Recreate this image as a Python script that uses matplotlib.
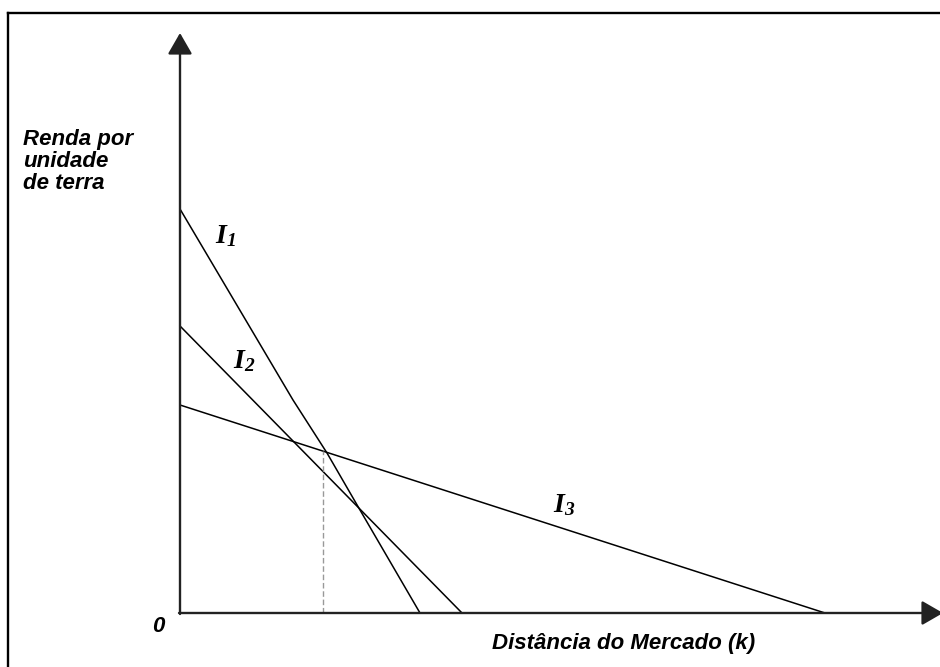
import numpy as np
import matplotlib
matplotlib.use('Agg')
import matplotlib.pyplot as plt
from matplotlib.lines import Line2D

# Curvas de renda (unidades arbitrárias: distância k, renda por unidade de terra)
i1_x = [0, 11.3, 14.7, 18.0, 24.0]
i1_y = [40.4, 21.3, 16.0, 10.3, 0]
i2_x = [0, 28.2]
i2_y = [28.7, 0]
i3_x = [0, 64.5]
i3_y = [20.8, 0]
k_corte = 14.3
labels = [r'$I_1$', r'$I_2$', r'$I_3$']
label_pos = [(3.5, 37.0), (5.3, 24.5), (37.3, 10.1)]

plt.rcParams['mathtext.fontset'] = 'custom'
plt.rcParams['mathtext.it'] = 'Liberation Serif:italic:bold'
plt.rcParams['mathtext.rm'] = 'Liberation Serif:italic:bold'

fig = plt.figure(figsize=(9.4, 6.67), dpi=100)
ax = fig.add_axes([0, 0, 1, 1])
ax.set_xlim(-18, 76)
ax.set_ylim(-5.4, 61.3)
ax.axis('off')

# moldura (só topo e esquerda visíveis)
fig.add_artist(Line2D([8 / 940, 8 / 940], [0, 1 - 13 / 667], color='black', lw=1.7))
fig.add_artist(Line2D([8 / 940, 1], [1 - 13 / 667, 1 - 13 / 667], color='black', lw=1.7))

# eixos com setas
arrow = dict(arrowstyle='-|>,head_length=1.3,head_width=0.75', mutation_scale=10,
             color='#222222', lw=1.7, shrinkA=0, shrinkB=0)
ax.annotate('', xy=(0, 58.0), xytext=(0, -0.1), arrowprops=arrow, annotation_clip=False)
ax.annotate('', xy=(76.3, 0), xytext=(-0.1, 0), arrowprops=arrow, annotation_clip=False)

# curvas
ax.plot(i1_x, i1_y, color='black', lw=1.1)
ax.plot(i2_x, i2_y, color='black', lw=1.1)
ax.plot(i3_x, i3_y, color='black', lw=1.1)

# linha tracejada no ponto de corte
y_corte = np.interp(k_corte, i3_x, i3_y)
ax.plot([k_corte, k_corte], [0, y_corte], color='#999999', lw=1.0, ls=(0, (4, 2)))

for lab, (x, y) in zip(labels, label_pos):
    ax.text(x, y, lab, fontsize=20, ha='left', va='baseline')

sans = dict(family='Liberation Sans', weight='bold', style='italic', fontsize=16)
ax.text(-15.7, 48.4, 'Renda por\nunidade\nde terra', va='top', ha='left',
        linespacing=1.05, **sans)
ax.text(-2.2, -1.3, '0', ha='center', va='center', **sans)
ax.text(31.2, -3.0, 'Distância do Mercado (k)', ha='left', va='center', **sans)

fig.savefig('out.png', dpi=100)
